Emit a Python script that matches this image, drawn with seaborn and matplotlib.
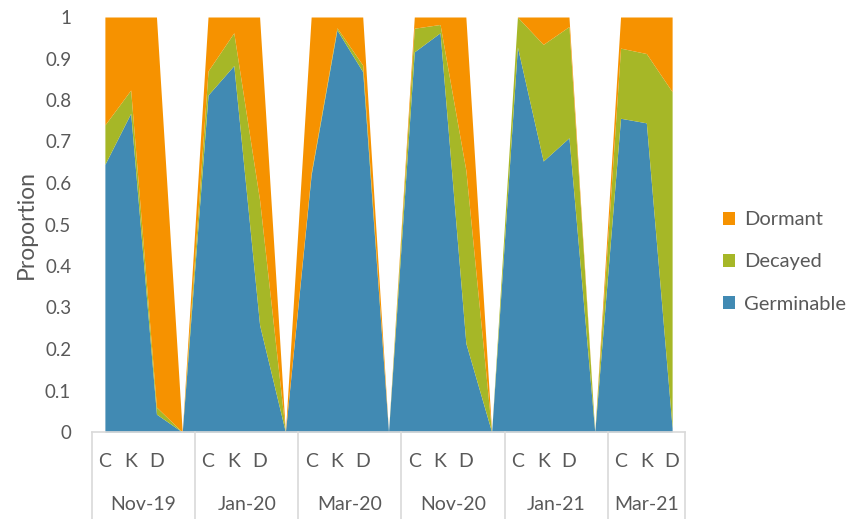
import numpy as np
import pandas as pd
import seaborn as sns
import matplotlib
matplotlib.use("Agg")
import matplotlib.pyplot as plt
from matplotlib.patches import Patch
import matplotlib.transforms as mtransforms

# ---- data ----
groups = ["Nov-19", "Jan-20", "Mar-20", "Nov-20", "Jan-21", "Mar-21"]
subcats = ["C", "K", "D"]

germinable = [0.645, 0.768, 0.043,
              0.812, 0.883, 0.258,
              0.620, 0.969, 0.868,
              0.916, 0.962, 0.214,
              0.928, 0.653, 0.709,
              0.756, 0.745, 0.010]
decayed = [0.095, 0.056, 0.017,
           0.058, 0.079, 0.301,
           0.005, 0.005, 0.016,
           0.057, 0.020, 0.417,
           0.072, 0.281, 0.268,
           0.169, 0.167, 0.810]
dormant = [0.260, 0.176, 0.940,
           0.130, 0.038, 0.441,
           0.375, 0.026, 0.116,
           0.027, 0.018, 0.369,
           0.000, 0.066, 0.023,
           0.075, 0.088, 0.180]

series_names = ["Germinable", "Decayed", "Dormant"]

# Build the category sequence: C, K, D and an empty (zero) slot between groups
rows = []
for gi, g in enumerate(groups):
    for si, s in enumerate(subcats):
        k = gi * 3 + si
        rows.append((g, s, germinable[k], decayed[k], dormant[k]))
    if gi < len(groups) - 1:
        rows.append((g, "", 0.0, 0.0, 0.0))
df = pd.DataFrame(rows, columns=["group", "sub", "Germinable", "Decayed", "Dormant"])
df["pos"] = np.arange(len(df))

# ---- style ----
sns.set_theme(style="white")
plt.rcParams["font.family"] = ["Lato", "DejaVu Sans"]
text_col = "#595959"
colors = {"Germinable": "#418AB3", "Decayed": "#A6B727", "Dormant": "#F69200"}

fig = plt.figure(figsize=(8.51, 5.19), dpi=100)
ax = fig.add_axes([92 / 851, 1 - 432 / 519, (685 - 92) / 851, (432 - 17) / 519])

ax.stackplot(df["pos"], [df[n] for n in series_names],
             colors=[colors[n] for n in series_names], linewidth=0)

ax.set_xlim(-0.5, len(df) - 0.5)
ax.set_ylim(0, 1)
ax.set_yticks(np.arange(0, 1.01, 0.1))
ax.set_yticklabels(["0"] + [f"{v:.1f}" for v in np.arange(0.1, 0.95, 0.1)] + ["1"])
ax.tick_params(axis="y", length=0, pad=15, labelsize=13.5, labelcolor=text_col)
ax.set_ylabel("Proportion", fontsize=16.5, color=text_col, labelpad=6)

sns.despine(ax=ax, left=True, top=True, right=True, bottom=False)
ax.spines["bottom"].set_color("#D9D9D9")
ax.spines["bottom"].set_linewidth(1.2)

ax.set_xticks(df["pos"])
ax.set_xticklabels(df["sub"])
ax.tick_params(axis="x", length=0, pad=15, labelsize=14, labelcolor=text_col)

# group separators and group labels
trans = mtransforms.blended_transform_factory(ax.transData, ax.transAxes)
bottom_ax = -(519 - 432) / 415
bounds = [-0.5] + [i * 4 + 3.5 for i in range(len(groups) - 1)] + [len(df) - 0.5]
for b in bounds:
    ax.plot([b, b], [0, bottom_ax], transform=trans, color="#D9D9D9",
            lw=1.2, clip_on=False)
for gi, g in enumerate(groups):
    center = (bounds[gi] + bounds[gi + 1]) / 2
    ax.text(center, -72 / 415, g, transform=trans, ha="center", va="center",
            fontsize=14, color=text_col)

# legend
handles = [Patch(facecolor=colors[n], edgecolor="none", label=n)
           for n in ["Dormant", "Decayed", "Germinable"]]
leg = fig.legend(handles=handles, loc="center left",
                 bbox_to_anchor=(705 / 851, 1 - 262 / 519), frameon=False,
                 handlelength=0.6, handleheight=0.6, handletextpad=0.45,
                 labelspacing=1.25, fontsize=14.5)
for t in leg.get_texts():
    t.set_color(text_col)

fig.savefig("out.png", dpi=100)
